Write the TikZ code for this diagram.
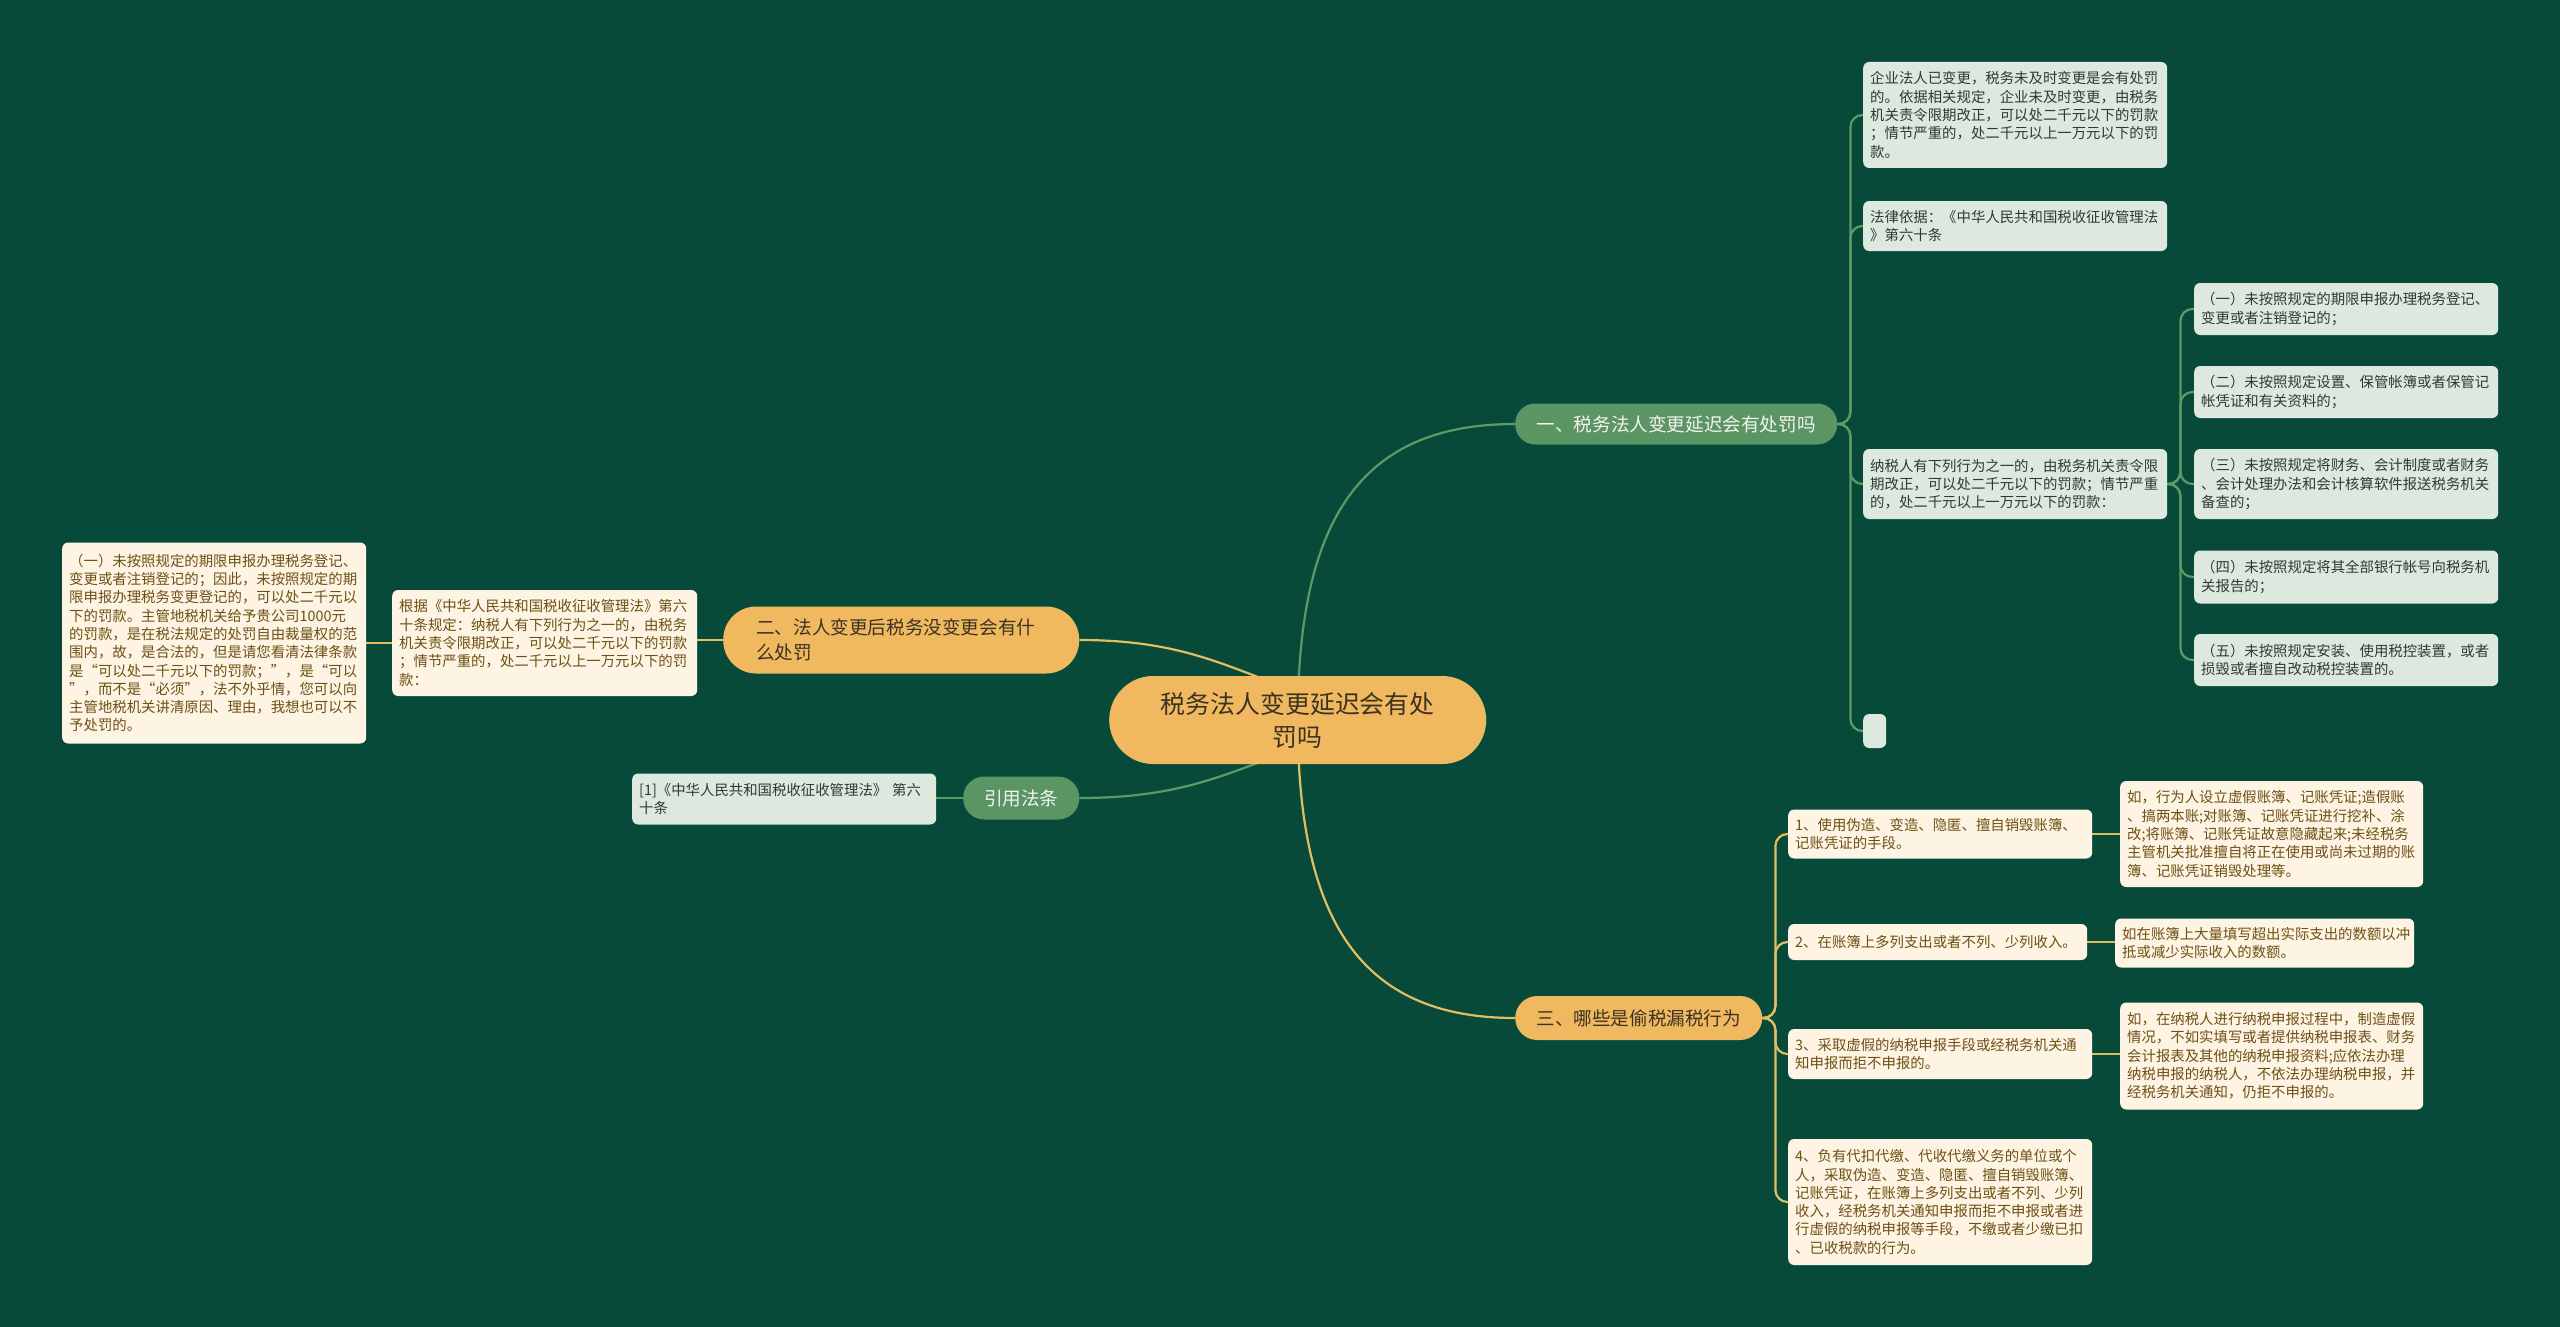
\documentclass[tikz,border=0pt]{standalone}
\usepackage{fontspec}
\setmainfont{Noto Sans CJK SC}
\definecolor{cBg}{HTML}{084A3A}
\definecolor{cGP}{HTML}{5A9563}
\definecolor{cGPtext}{HTML}{F2F4EE}
\definecolor{cOP}{HTML}{F0B960}
\definecolor{cOPtext}{HTML}{3B3222}
\definecolor{cLG}{HTML}{DDE8DF}
\definecolor{cLGtext}{HTML}{2F3A33}
\definecolor{cCR}{HTML}{FDF4E4}
\definecolor{cCRtext}{HTML}{6E5014}
\definecolor{cGLine}{HTML}{5E9A66}
\definecolor{cOLine}{HTML}{E2BE62}
\pgfdeclarelayer{bglayer}
\pgfdeclarelayer{edges}
\pgfsetlayers{bglayer,edges,main}
\tikzset{
  box/.style={anchor=west, rounded corners=6pt, inner xsep=7pt, inner ysep=0pt, align=left,
    font=\fontsize{14.4}{18.3}\selectfont},
  gbox/.style={box, fill=cLG, text=cLGtext},
  cbox/.style={box, fill=cCR, text=cCRtext},
  pill/.style={anchor=west, inner ysep=0pt, font=\fontsize{18.6}{24.5}\selectfont},
  gpill/.style={pill, fill=cGP, text=cGPtext, align=center},
  opill/.style={pill, fill=cOP, text=cOPtext},
  gline/.style={draw=cGLine, line width=2.2pt, rounded corners=12pt},
  oline/.style={draw=cOLine, line width=2.2pt, rounded corners=12pt},
}
\begin{document}
\begin{tikzpicture}[x=1pt,y=-1pt]
\useasboundingbox (0,0) rectangle (2560,1327);
\begin{pgfonlayer}{bglayer}
\fill[cBg] (0,0) rectangle (2560,1327);
\end{pgfonlayer}

% central node
\node[opill, align=center, rounded corners=44pt, minimum width=377pt, minimum height=88pt,
  font=\fontsize{24.9}{33}\selectfont] (c) at (1109,720) {税务法人变更延迟会有处\\罚吗};

% branches
\node[gpill, rounded corners=20pt, minimum width=322pt, minimum height=41pt] (b1) at (1515,424) {一、税务法人变更延迟会有处罚吗};
\node[opill, align=left, rounded corners=33pt, text width=290pt, inner xsep=33pt, minimum height=67pt] (b2) at (723,640) {二、法人变更后税务没变更会有什\\么处罚};
\node[opill, align=center, rounded corners=22pt, minimum width=247pt, minimum height=44pt] (b3) at (1515,1018) {三、哪些是偷税漏税行为};
\node[gpill, rounded corners=21pt, minimum width=116pt, minimum height=43pt] (b4) at (963,798) {引用法条};

% branch 1 children
\node[gbox, text width=290pt, minimum height=106pt] (A1) at (1863,115) {企业法人已变更，税务未及时变更是会有处罚\\的。依据相关规定，企业未及时变更，由税务\\机关责令限期改正，可以处二千元以下的罚款\\；情节严重的，处二千元以上一万元以下的罚\\款。};
\node[gbox, text width=290pt, minimum height=50pt] (A2) at (1863,226) {法律依据：《中华人民共和国税收征收管理法\\》第六十条};
\node[gbox, text width=290pt, minimum height=70pt] (A3) at (1863,484) {纳税人有下列行为之一的，由税务机关责令限\\期改正，可以处二千元以下的罚款；情节严重\\的，处二千元以上一万元以下的罚款：};
\node[gbox, inner xsep=0pt, minimum width=23pt, minimum height=34pt] (A4) at (1863,731) {};

% A3 children
\node[gbox, text width=290pt, minimum height=52pt] (B1) at (2194,309) {（一）未按照规定的期限申报办理税务登记、\\变更或者注销登记的；};
\node[gbox, text width=290pt, minimum height=52pt] (B2) at (2194,392) {（二）未按照规定设置、保管帐簿或者保管记\\帐凭证和有关资料的；};
\node[gbox, text width=290pt, minimum height=70pt] (B3) at (2194,484) {（三）未按照规定将财务、会计制度或者财务\\、会计处理办法和会计核算软件报送税务机关\\备查的；};
\node[gbox, text width=290pt, minimum height=53pt] (B4) at (2194,577) {（四）未按照规定将其全部银行帐号向税务机\\关报告的；};
\node[gbox, text width=290pt, minimum height=52pt] (B5) at (2194,660) {（五）未按照规定安装、使用税控装置，或者\\损毁或者擅自改动税控装置的。};

% branch 2 children
\node[cbox, text width=291pt, minimum height=106pt] (C1) at (392,643) {根据《中华人民共和国税收征收管理法》第六\\十条规定：纳税人有下列行为之一的，由税务\\机关责令限期改正，可以处二千元以下的罚款\\；情节严重的，处二千元以上一万元以下的罚\\款：};
\node[cbox, text width=290pt, minimum height=201pt] (C2) at (62,643) {（一）未按照规定的期限申报办理税务登记、\\变更或者注销登记的；因此，未按照规定的期\\限申报办理税务变更登记的，可以处二千元以\\下的罚款。主管地税机关给予贵公司1000元\\的罚款，是在税法规定的处罚自由裁量权的范\\围内，故，是合法的，但是请您看清法律条款\\是“可以处二千元以下的罚款；”，是“可以\\”，而不是“必须”，法不外乎情，您可以向\\主管地税机关讲清原因、理由，我想也可以不\\予处罚的。};

% citation child
\node[gbox, text width=290pt, minimum height=51pt] (D1) at (632,799) {[1]《中华人民共和国税收征收管理法》 第六\\十条};

% branch 3 children
\node[cbox, text width=290pt, minimum height=49pt] (E1) at (1788,834) {1、使用伪造、变造、隐匿、擅自销毁账簿、\\记账凭证的手段。};
\node[cbox, text width=285pt, minimum height=36pt] (E2) at (1788,942) {2、在账簿上多列支出或者不列、少列收入。};
\node[cbox, text width=290pt, minimum height=50pt] (E3) at (1788,1054) {3、采取虚假的纳税申报手段或经税务机关通\\知申报而拒不申报的。};
\node[cbox, text width=290pt, minimum height=126pt] (E4) at (1788,1202) {4、负有代扣代缴、代收代缴义务的单位或个\\人，采取伪造、变造、隐匿、擅自销毁账簿、\\记账凭证，在账簿上多列支出或者不列、少列\\收入，经税务机关通知申报而拒不申报或者进\\行虚假的纳税申报等手段，不缴或者少缴已扣\\、已收税款的行为。};

\node[cbox, text width=289pt, minimum height=106pt] (F1) at (2120,834) {如，行为人设立虚假账簿、记账凭证;造假账\\、搞两本账;对账簿、记账凭证进行挖补、涂\\改;将账簿、记账凭证故意隐藏起来;未经税务\\主管机关批准擅自将正在使用或尚未过期的账\\簿、记账凭证销毁处理等。};
\node[cbox, text width=285pt, minimum height=49pt] (F2) at (2115,943) {如在账簿上大量填写超出实际支出的数额以冲\\抵或减少实际收入的数额。};
\node[cbox, text width=289pt, minimum height=107pt] (F3) at (2120,1056) {如，在纳税人进行纳税申报过程中，制造虚假\\情况，不如实填写或者提供纳税申报表、财务\\会计报表及其他的纳税申报资料;应依法办理\\纳税申报的纳税人，不依法办理纳税申报，并\\经税务机关通知，仍拒不申报的。};

\begin{pgfonlayer}{edges}
% from centre to branches
\draw[gline] (c.center) .. controls (1298,520) and (1360,424) .. (b1.west);
\draw[oline] (c.center) .. controls (1298,920) and (1360,1018) .. (b3.west);
\draw[oline] (b2.east) .. controls +(100,0) and +(-70,-25) .. ([shift={(-5,-30)}]c.center);
\draw[gline] (b4.east) .. controls +(100,0) and +(-70,25) .. ([shift={(-5,30)}]c.center);

% branch 1
\foreach \n in {A1,A2,A3,A4}
  \draw[gline] (b1.east) -- ++(13,0) |- (\n.west);
\foreach \n in {B1,B2,B3,B4,B5}
  \draw[gline] (A3.east) -- ++(13,0) |- (\n.west);

% branch 2
\draw[oline] (b2.west) -- (C1.east |- b2.west);
\draw[oline] (C1.west) -- (C2.east |- C1.west);

% citation
\draw[gline] (b4.west) -- (D1.east |- b4.west);

% branch 3
\foreach \n in {E1,E2,E3,E4}
  \draw[oline] (b3.east) -- ++(13,0) |- (\n.west);
\draw[oline] (E1.east) -- (F1.west |- E1.east);
\draw[oline] (E2.east) -- (F2.west |- E2.east);
\draw[oline] (E3.east) -- (F3.west |- E3.east);
\end{pgfonlayer}
\end{tikzpicture}
\end{document}
